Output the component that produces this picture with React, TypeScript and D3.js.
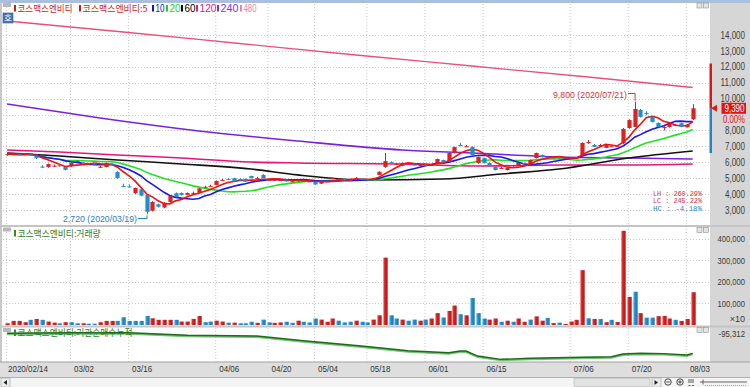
import React from 'react';
import * as d3 from 'd3';

// ---------- DATA ----------
const tickLabels = ['2020/02/14', '03/02', '03/16', '04/06', '04/20', '05/04', '05/18', '06/01', '06/15', '07/06', '07/20', '08/03'];
const tickIndex = [0, 11, 21, 36, 45, 53, 62, 72, 82, 97, 107, 117];

const openP = [6450,6480,6500,6480,6500,6400,5720,5700,5780,5800,5700,5750,6020,5950,5900,5920,5700,5700,5900,5380,
  4500,4480,4060,4300,3940,2950,3350,3150,3500,4050,4060,3950,4060,4070,4440,4500,4570,4880,4950,5000,
  4950,4950,5130,5000,5200,4900,4850,4880,4850,4800,4800,4850,4800,4760,4650,4800,4980,4950,4920,4880,
  5000,4960,4920,4880,5200,5700,6000,5900,5780,5950,5850,5830,5840,5820,5950,6140,6020,6580,7080,7000,
  6950,5950,6260,5950,5700,5640,5510,5700,5770,5950,5890,6260,6450,6250,6300,6300,6250,6230,6260,6450,
  7270,7080,7080,6900,7000,7000,7200,8150,8220,9280,9100,8850,8470,8210,8210,8340,8450,8200,8700];
const highP = [6550,6550,6530,6550,6520,6420,5800,5920,5850,5850,5720,6000,6100,6000,5960,5950,5780,5980,5950,5450,
  4650,4600,4400,4320,3950,3550,3400,3500,3900,4100,4100,4100,4150,4380,4520,4580,4850,4950,5000,5020,
  4980,4980,5150,5080,5250,4960,4950,4950,4880,4860,4900,4900,4850,4780,4800,4850,5050,5000,4960,4950,
  5060,5000,4960,5020,5420,6580,6050,5950,5980,6000,5880,5880,5880,5860,6230,6160,6600,6980,7210,7080,
  7000,6350,6280,5980,5720,5700,5660,5750,5970,5980,6160,6600,6480,6320,6350,6320,6300,6300,6300,7250,
  7400,7150,7150,7100,7050,7030,8150,8700,9800,9350,9200,8900,8500,8300,8420,8400,8480,8380,9650];
const lowP = [6400,6430,6450,6450,6400,6200,5650,5650,5700,5720,5480,5700,5980,5880,5860,5850,5650,5680,5850,4950,
  4440,4420,4000,3850,2720,2900,3150,3100,3450,3800,3900,3920,4000,4050,4380,4450,4550,4830,4900,4760,
  4830,4760,4980,4950,4980,4850,4820,4830,4780,4750,4780,4800,4750,4580,4620,4750,4950,4900,4880,4830,
  4950,4900,4880,4860,5180,5650,5920,5850,5750,5900,5800,5780,5790,5780,5930,6000,6000,6550,7000,6950,
  6400,5900,5920,5750,5480,5580,5480,5650,5750,5880,5870,6240,6300,6230,6250,6230,6200,6210,6220,6400,
  7150,6950,7000,6880,6950,6970,7150,8100,8200,8800,8950,8500,8200,8000,8180,8280,8200,8180,8650];
const closeP = [6500,6500,6480,6520,6450,6250,5700,5880,5780,5760,5520,5950,6080,5900,5920,5880,5710,5950,5880,5000,
  4450,4430,4380,3900,2880,3500,3200,3450,3870,3820,3950,4060,4070,4350,4450,4510,4820,4890,4940,4780,
  4850,4780,5000,5000,5000,4900,4900,4880,4800,4800,4880,4850,4800,4600,4780,4800,5000,4950,4900,4880,
  5000,4950,4900,5000,5400,6070,5950,5900,5960,5950,5830,5830,5830,5830,6200,6020,6580,6950,7060,7000,
  6450,6330,5950,5770,5510,5640,5640,5700,5950,5900,6140,6580,6330,6300,6300,6250,6250,6280,6260,7210,
  7270,6960,7080,7080,7000,7000,8090,8650,9350,8850,9050,8530,8210,8210,8400,8340,8220,8350,9390];

const volume = [8000,19000,19000,13000,24000,28000,24000,16000,11000,8000,13000,13000,8000,8000,6000,6000,13000,19000,19000,19000,
  36000,19000,19000,19000,42000,31000,24000,24000,24000,24000,16000,16000,28000,42000,13000,16000,20000,16000,11000,11000,
  8000,8000,15000,10000,25000,12000,10000,12000,15000,10000,20000,15000,12000,30000,25000,15000,30000,20000,12000,15000,
  20000,15000,12000,25000,45000,312000,45000,30000,25000,20000,25000,20000,25000,30000,55000,35000,65000,90000,50000,45000,
  125000,55000,30000,25000,30000,15000,20000,15000,30000,15000,25000,40000,20000,33000,9000,11000,5000,16000,24000,254000,
  31000,28000,28000,13000,24000,14000,436000,130000,154000,55000,34000,34000,41000,42000,30000,24000,19000,28000,152000];
const volumeDir = 'rrrrbrbrrbrbbrbbrrrbbbbbbrrrrbrrrrbbrrbrbb' +
  'brbbrrbbrbbbrrrbbbrbbrrrbbrbbrbrrbrrbrbbbrrbrbrrbr' +
  'rbrbrrrrbrbrbrrrbrbbrrrbrr';

// long moving averages: [index, price]
const ma60 = [[0,6580],[9,6390],[19,6140],[30,5890],[42,5570],[50,5200],[62,4880],[75,4940],[85,5260],[95,5570],[107,6260],[118,6700]];
const ma120 = [[0,6767],[9,6642],[19,6453],[30,6264],[42,6013],[50,5950],[68,5887],[81,5761],[95,5824],[107,5824],[118,5887]];
const ma240 = [[0,9661],[16,8780],[33,7962],[50,7334],[68,6768],[80,6579],[95,6327],[107,6264],[118,6201]];
const ma480 = [[0,14880],[20,14189],[40,13465],[60,12742],[80,12050],[100,11358],[118,10698]];

// institution cumulative net buying: [index, shares]
const instCum = [[0,-101000],[11,-89500],[21,-89500],[31,-140000],[43,-153500],[51,-244800],[61,-347700],[69,-438900],[76,-477700],
  [78,-444700],[79,-444700],[81,-541800],[85,-605800],[90,-586400],[99,-567000],[104,-555400],[106,-502900],[109,-489400],[113,-495000],[117,-522400],[118,-489400]];

const priceTicks = [3000,4000,5000,6000,7000,8000,10000,11000,12000,13000,14000];
const priceGrid = [3000,4000,5000,6000,7000,8000,9000,10000,11000,12000,13000,14000];
const volTicks = [100000,200000,300000,400000];

const legendItems = [
  { label: '코스맥스엔비티', color: '#c81e1e', x: 14, w: 55, korean: true },
  { label: '코스맥스엔비티:5', color: '#c81e1e', x: 79, w: 65, korean: true },
  { label: '10', color: '#1010e0', x: 152, w: 9 },
  { label: '20', color: '#20d020', x: 166, w: 11 },
  { label: '60', color: '#000000', x: 181, w: 11 },
  { label: '120', color: '#e0207a', x: 196, w: 17 },
  { label: '240', color: '#8030e0', x: 217, w: 18 },
  { label: '480', color: '#f080a8', x: 240, w: 13 },
];

const RED = '#d92222';
const BLUE = '#1e8fcc';
const KFONT = '"Noto Sans CJK KR", "Noto Sans", sans-serif';
const NFONT = '"Liberation Sans", Arial, sans-serif';
const MFONT = '"Liberation Mono", "DejaVu Sans Mono", monospace';

function sma(arr: number[], n: number) {
  return arr.map((_, i) => d3.mean(arr.slice(Math.max(0, i - n + 1), i + 1)) as number);
}
function numWidth(s: string, dw = 4.4) {
  let w = 0;
  for (const c of s) w += /[0-9]/.test(c) ? dw : (c === ',' || c === '.') ? 2.4 : c === '%' ? 6 : c === '/' ? 3 : c === '-' ? 3 : 4;
  return w;
}

export default function App() {
  const n = closeP.length;
  const x = d3.scaleLinear().domain([0, n - 1]).range([7.1, 692.7]);
  const yP = d3.scaleLinear().domain([3000, 14000]).range([209.9, 35]);
  const yV = d3.scaleLinear().domain([0, 400000]).range([325, 238.6]);
  const yI = d3.scaleLinear().domain([-650000, -95312]).range([361.6, 333]);

  const idx = d3.range(n);
  const ma5 = sma(closeP, 5), ma10 = sma(closeP, 10), ma20 = sma(closeP, 20);
  const lineFrom = (arr: number[]) => d3.line<number>().x(i => x(i)).y(i => yP(arr[i]))(idx) || '';
  const linePts = (pts: number[][]) =>
    d3.line<number[]>().x(d => x(d[0])).y(d => yP(d[1])).curve(d3.curveMonotoneX)(pts) || '';
  const instLine = d3.line<number[]>().x(d => x(d[0])).y(d => yI(d[1]))(instCum) || '';

  const bw = 4.2;
  const last = closeP[n - 1];
  const hiIdx = d3.maxIndex(highP), loIdx = d3.minIndex(lowP);
  const hi = highP[hiIdx], lo = lowP[loIdx];
  const LH = ((hi - lo) / lo * 100).toFixed(2), LC = ((last - lo) / lo * 100).toFixed(2), HC = ((last - hi) / hi * 100).toFixed(2);

  const gridCol = '#b8b8b8';
  const PLOT_R = 709;

  return (
    <svg width={750} height={387} style={{ position: 'fixed', left: 0, top: 0, background: '#fff' }}
      xmlns="http://www.w3.org/2000/svg">
      <defs>
        <clipPath id="cp"><rect x={3} y={13} width={PLOT_R - 3} height={212} /></clipPath>
        <clipPath id="cv"><rect x={3} y={229} width={PLOT_R - 3} height={96} /></clipPath>
        <linearGradient id="gr" x1="0" x2="1"><stop offset="0" stopColor="#f07070" /><stop offset="0.35" stopColor="#d42020" /><stop offset="1" stopColor="#b81818" /></linearGradient>
        <linearGradient id="gb" x1="0" x2="1"><stop offset="0" stopColor="#70c0ec" /><stop offset="0.35" stopColor="#2090d0" /><stop offset="1" stopColor="#1878b0" /></linearGradient>
      </defs>
      {/* frame */}
      <rect x={0} y={0} width={750} height={387} fill="#ffffff" />
      <rect x={0} y={0} width={750} height={3} fill="#a9bfdc" />
      <rect x={0} y={3} width={2} height={374} fill="#c8c8c8" />
      {/* right axis background */}
      <rect x={PLOT_R + 1} y={3} width={750 - PLOT_R - 1} height={360} fill="#d6d6d6" />
      {/* panel separators */}
      <rect x={0} y={225} width={750} height={2} fill="#c4c4c4" />
      <rect x={0} y={325.5} width={750} height={2} fill="#c4c4c4" />
      {/* x axis strip */}
      <rect x={0} y={362} width={750} height={15} fill="#dedede" />
      <line x1={0} x2={750} y1={362} y2={362} stroke="#a0a0a0" />
      {/* scroll bar */}
      <rect x={0} y={377} width={750} height={10} fill="#f4f4f4" />
      <line x1={0} x2={750} y1={377.5} y2={377.5} stroke="#b0b0b0" />
      <rect x={1} y={378} width={9} height={9} fill="#ececec" stroke="#a0a0a0" strokeWidth={0.6} />
      <path d="M3.5 382.5 L7 380 L7 385 Z" fill="#222" />
      <rect x={574} y={378.5} width={76} height={8} fill="#e2e2e2" stroke="#b8b8b8" strokeWidth={0.6} />
      <rect x={652} y={378} width={9} height={9} fill="#ececec" stroke="#a0a0a0" strokeWidth={0.6} />
      <path d="M658 382.5 L654.5 380 L654.5 385 Z" fill="#222" />
      <circle cx={668} cy={382} r={3.2} fill="none" stroke="#333" strokeWidth={0.9} />
      <line x1={666.3} x2={669.7} y1={382} y2={382} stroke="#333" strokeWidth={0.9} />
      <circle cx={680} cy={382} r={3.2} fill="none" stroke="#333" strokeWidth={0.9} />
      <path d="M678.3 382 H681.7 M680 380.3 V383.7" stroke="#333" strokeWidth={0.9} />
      <path d="M689 379 V383 M691 379 V383 M693 379 V383 M688.5 385.5 H690.5 M692 385.5 H694" stroke="#333" strokeWidth={0.8} />
      <path d="M700 382 H747 M703 379.5 V384.5" stroke="#444" strokeWidth={0.8} />
      <path d="M705 385.5 H747" stroke="#666" strokeWidth={0.6} strokeDasharray="1 1" />

      {/* vertical grid */}
      {tickIndex.map((t, k) => (
        <line key={'vg' + k} x1={x(t) - 0.5} x2={x(t) - 0.5} y1={4} y2={362} stroke={gridCol} strokeWidth={0.8} strokeDasharray="1 2" />
      ))}
      {/* price horizontal grid */}
      {priceGrid.map(v => (
        <line key={'pg' + v} x1={3} x2={PLOT_R} y1={Math.round(yP(v)) + 0.5} y2={Math.round(yP(v)) + 0.5} stroke={gridCol} strokeWidth={0.8} strokeDasharray="1 2" />
      ))}
      {volTicks.map(v => (
        <line key={'vgl' + v} x1={3} x2={PLOT_R} y1={Math.round(yV(v)) + 0.5} y2={Math.round(yV(v)) + 0.5} stroke={gridCol} strokeWidth={0.8} strokeDasharray="1 2" />
      ))}

      {/* ---------- price panel ---------- */}
      <g clipPath="url(#cp)">
        <path d={linePts(ma480)} fill="none" stroke="#e8507a" strokeWidth={1.3} />
        <path d={linePts(ma240)} fill="none" stroke="#7a22d8" strokeWidth={1.6} />
        <path d={linePts(ma120)} fill="none" stroke="#e8147c" strokeWidth={1.6} />
        <path d={linePts(ma60)} fill="none" stroke="#111111" strokeWidth={1.6} />
        <path d={lineFrom(ma20)} fill="none" stroke="#22e022" strokeWidth={1.6} />
        <path d={lineFrom(ma10)} fill="none" stroke="#1818e8" strokeWidth={1.6} />
        <path d={lineFrom(ma5)} fill="none" stroke="#f01010" strokeWidth={1.6} />
        {idx.map(i => {
          const up = closeP[i] >= openP[i];
          const c = up ? RED : BLUE;
          const top = yP(Math.max(openP[i], closeP[i]));
          const bot = yP(Math.min(openP[i], closeP[i]));
          const cx = Math.round(x(i));
          return (
            <g key={'c' + i}>
              <line x1={cx + 0.5} x2={cx + 0.5} y1={yP(highP[i])} y2={yP(lowP[i])} stroke={c} strokeWidth={1} />
              <rect x={cx + 0.5 - bw / 2} y={top} width={bw} height={Math.max(1, bot - top)} fill={c} />
            </g>
          );
        })}
      </g>

      {/* high / low annotations */}
      <text x={627} y={97.5} fill="#d03434" fontSize={9.5} fontFamily={NFONT} textAnchor="end" textLength={74} lengthAdjust="spacingAndGlyphs">
        {`${d3.format(',')(hi)} (2020/07/21)`}
      </text>
      <path d={`M628 93.5 H${x(hiIdx) + 0.5} V${yP(hi) - 1}`} fill="none" stroke="#d03434" strokeWidth={1} />
      <text x={63} y={221.5} fill="#2a80c0" fontSize={9.5} fontFamily={NFONT} textLength={74} lengthAdjust="spacingAndGlyphs">
        {`${d3.format(',')(lo)} (2020/03/19)`}
      </text>
      <path d={`M138 218.5 H${x(loIdx) + 0.5} V${yP(lo) + 1}`} fill="none" stroke="#2a80c0" strokeWidth={1} />

      {/* LH LC HC */}
      <text x={702} y={195.5} fill="#d43030" fontSize={7.5} fontFamily={MFONT} textAnchor="end" textLength={49} lengthAdjust="spacingAndGlyphs">{`LH : ${LH}%`}</text>
      <text x={702} y={203} fill="#d43030" fontSize={7.5} fontFamily={MFONT} textAnchor="end" textLength={49} lengthAdjust="spacingAndGlyphs">{`LC : ${LC}%`}</text>
      <text x={702} y={210.5} fill="#2a88c8" fontSize={7.5} fontFamily={MFONT} textAnchor="end" textLength={49} lengthAdjust="spacingAndGlyphs">{`HC :  ${HC}%`}</text>

      {/* legend */}
      <rect x={3} y={3} width={8} height={4} fill="#b8b8b8" />
      {legendItems.map((l, k) => (
        <g key={'lg' + k}>
          <rect x={l.x} y={5} width={2} height={6.5} fill={l.color} />
          <text x={l.x + 3.5} y={11.5} fill={l.color} fontSize={l.korean ? 9.5 : 10} fontFamily={l.korean ? KFONT : NFONT}
            textLength={l.w} lengthAdjust="spacingAndGlyphs">{l.label}</text>
        </g>
      ))}
      <rect x={3} y={13} width={10} height={10} fill="#4a78b0" stroke="#2a5890" strokeWidth={0.6} />
      <text x={8} y={21} fill="#ffffff" fontSize={8} fontFamily={KFONT} textAnchor="middle">호</text>

      {/* ---------- volume panel ---------- */}
      <g clipPath="url(#cv)">
        {idx.map(i => {
          const d = volumeDir.charAt(i) || (closeP[i] >= openP[i] ? 'r' : 'b');
          const cx = Math.round(x(i));
          const top = yV(volume[i]);
          return <rect key={'v' + i} x={cx + 0.5 - 2.2} y={top} width={4.4} height={yV(0) - top}
            fill={d === 'r' ? 'url(#gr)' : 'url(#gb)'} />;
        })}
      </g>
      <rect x={3} y={227.5} width={8} height={4} fill="#b8b8b8" />
      <rect x={14} y={230} width={2} height={6.5} fill="#2e8b2e" />
      <text x={17.5} y={236.5} fill="#2e7d2e" fontSize={9.5} fontFamily={KFONT} textLength={83} lengthAdjust="spacingAndGlyphs">코스맥스엔비티:거래량</text>

      {/* ---------- institution panel ---------- */}
      <path d={instLine} fill="none" stroke="#74c074" strokeWidth={2} transform="translate(0,1)" />
      <path d={instLine} fill="none" stroke="#1b6b1b" strokeWidth={1.4} />
      <rect x={3} y={328} width={8} height={4} fill="#b8b8b8" />
      <rect x={14} y={329.5} width={2} height={6.5} fill="#2e8b2e" />
      <text x={17.5} y={336} fill="#2e7d2e" fontSize={9.5} fontFamily={KFONT} textLength={115} lengthAdjust="spacingAndGlyphs">코스맥스엔비티:기관순매수누적</text>

      {/* panel corner buttons */}
      {[3, 227.5, 327.5].map((yy, k) => (
        <g key={'btn' + k}>
          <rect x={697} y={yy} width={5} height={5} fill="#e4e4e4" stroke="#909090" strokeWidth={0.6} />
          <rect x={703.5} y={yy} width={5} height={5} fill="#e4e4e4" stroke="#909090" strokeWidth={0.6} />
        </g>
      ))}

      {/* ---------- right axis ---------- */}
      {priceTicks.map(v => {
        const s = d3.format(',')(v);
        return <text key={'pt' + v} x={745} y={yP(v) + 3.6} fill="#3a3a3a" fontSize={10} fontFamily={NFONT} textAnchor="end"
          textLength={numWidth(s)} lengthAdjust="spacingAndGlyphs">{s}</text>;
      })}
      {volTicks.map(v => {
        const s = d3.format(',')(v);
        return <text key={'vt' + v} x={745} y={yV(v) + 3.4} fill="#3a3a3a" fontSize={9} fontFamily={NFONT} textAnchor="end"
          textLength={numWidth(s, 4.2)} lengthAdjust="spacingAndGlyphs">{s}</text>;
      })}
      <text x={745} y={321.5} fill="#3a3a3a" fontSize={9} fontFamily={NFONT} textAnchor="end">×10</text>
      <text x={745} y={336.5} fill="#3a3a3a" fontSize={9} fontFamily={NFONT} textAnchor="end" textLength={numWidth('-95,312', 4.2)} lengthAdjust="spacingAndGlyphs">-95,312</text>

      {/* price range bar & current price */}
      <rect x={709.5} y={yP(last * 1.3)} width={2.5} height={yP(last) - yP(last * 1.3)} fill="#d81818" />
      <rect x={709.5} y={yP(last)} width={2.5} height={yP(last * 0.7) - yP(last)} fill="#1f86c4" />
      <path d={`M711 ${yP(last)} L717 ${yP(last) - 3.5} L717 ${yP(last) + 3.5} Z`} fill="#e01818" />
      <rect x={721.5} y={yP(last) - 5.5} width={24.5} height={11} fill="#e01414" />
      <text x={744.5} y={yP(last) + 3.6} fill="#ffffff" fontSize={10} fontFamily={NFONT} textAnchor="end"
        textLength={numWidth(d3.format(',')(last))} lengthAdjust="spacingAndGlyphs">{d3.format(',')(last)}</text>
      <text x={745} y={yP(last) + 15} fill="#e01414" fontSize={10} fontFamily={NFONT} textAnchor="end"
        textLength={22} lengthAdjust="spacingAndGlyphs">0.00%</text>

      {/* ---------- x axis labels ---------- */}
      {tickIndex.map((t, k) => {
        const s = tickLabels[k];
        return <text key={'xl' + k} x={k === 0 ? 8 : x(t) + 3} y={372} fill="#333" fontSize={9.5} fontFamily={NFONT}
          textLength={numWidth(s, 4.25)} lengthAdjust="spacingAndGlyphs">{s}</text>;
      })}
    </svg>
  );
}
